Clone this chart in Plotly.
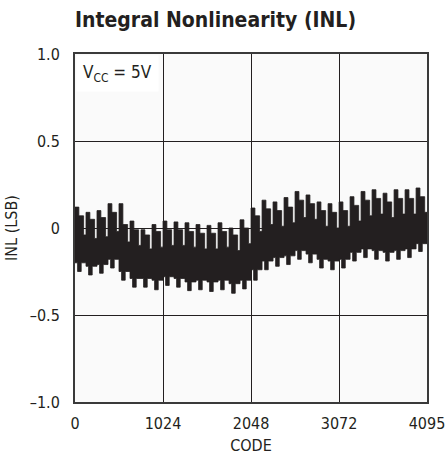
import plotly.graph_objects as go

# ---- data (per 128-code segment) ----
segment_size = 128
top_spike = [0.12, 0.09, 0.10, 0.14, 0.14, 0.04, -0.01, 0.02, 0.04, 0.035, 0.03, 0.02, 0.015, 0.03, 0.00, 0.047,
             0.115, 0.16, 0.15, 0.175, 0.21, 0.19, 0.15, 0.14, 0.15, 0.18, 0.21, 0.22, 0.20, 0.22, 0.22, 0.23]
top_step = [0.07, 0.05, 0.06, 0.09, 0.02, -0.01, -0.04, -0.02, -0.01, -0.01, -0.02, -0.03, -0.03, -0.02, -0.04, 0.00,
            0.07, 0.11, 0.10, 0.12, 0.16, 0.14, 0.10, 0.09, 0.10, 0.13, 0.16, 0.17, 0.15, 0.17, 0.17, 0.18]
top_gap = [-0.04, -0.06, -0.05, -0.02, -0.08, -0.10, -0.12, -0.11, -0.10, -0.10, -0.11, -0.12, -0.12, -0.11, -0.13, -0.09,
           -0.02, 0.02, 0.01, 0.03, 0.06, 0.05, 0.01, 0.00, 0.01, 0.04, 0.07, 0.08, 0.06, 0.08, 0.08, 0.09]
bot_dip = [-0.25, -0.27, -0.26, -0.23, -0.30, -0.34, -0.34, -0.355, -0.33, -0.34, -0.36, -0.355, -0.365, -0.355, -0.375, -0.35,
           -0.30, -0.24, -0.22, -0.21, -0.18, -0.20, -0.23, -0.24, -0.23, -0.19, -0.17, -0.18, -0.19, -0.18, -0.17, -0.135]
bot_step = [-0.20, -0.22, -0.21, -0.18, -0.25, -0.29, -0.29, -0.30, -0.28, -0.29, -0.31, -0.30, -0.31, -0.30, -0.32, -0.30,
            -0.24, -0.19, -0.17, -0.16, -0.13, -0.15, -0.18, -0.19, -0.18, -0.14, -0.12, -0.13, -0.14, -0.13, -0.12, -0.09]

x_tick_vals = [0, 1024, 2048, 3072, 4095]
x_tick_text = ["0", "1024", "2048", "3072", "4095"]
y_tick_vals = [-1.0, -0.5, 0.0, 0.5, 1.0]
y_tick_text = ["\u20131.0", "\u20130.5", "0", "0.5", "1.0"]

max_code = 4095

def add_steps(xs, ys, segs):
    for a, b, v in segs:
        a = min(a, max_code)
        b = min(b, max_code)
        if b <= a:
            continue
        xs.extend([a, b])
        ys.extend([v, v])

ux, uy, lx, ly = [], [], [], []
for k in range(len(top_spike)):
    s = k * segment_size
    add_steps(ux, uy, [(s, s + 45, top_spike[k]), (s + 45, s + 100, top_step[k]),
                       (s + 100, s + segment_size, top_gap[k])])
    add_steps(lx, ly, [(s, s + 30, bot_step[k]), (s + 30, s + 72, bot_dip[k]),
                       (s + 72, s + segment_size, bot_step[k])])

px = ux + lx[::-1] + [ux[0]]
py = uy + ly[::-1] + [uy[0]]

narrow = "Liberation Sans Narrow, DejaVu Sans Condensed, Arial Narrow, sans-serif"

fig = go.Figure()
fig.add_trace(go.Scatter(x=px, y=py, mode="lines", fill="toself",
                         fillcolor="#231f20", line=dict(color="#231f20", width=0.8),
                         hoverinfo="skip", showlegend=False))

fig.update_layout(
    width=448, height=460,
    margin=dict(l=75, r=21, t=54, b=58),
    paper_bgcolor="white", plot_bgcolor="#fafafa",
    font=dict(family=narrow, size=16, color="#231f20"),
    title=dict(text="<b>Integral Nonlinearity (INL)</b>", x=75/448, xanchor="left",
               y=1 - 20/460, yanchor="middle", font=dict(family=narrow, size=21, color="#231f20")),
    xaxis=dict(range=[0, max_code], tickvals=x_tick_vals, ticktext=x_tick_text,
               showgrid=True, gridcolor="#231f20", gridwidth=1, zeroline=False,
               showline=True, linecolor="#3a3a3a", linewidth=2, mirror=True,
               ticks="", ticklabelstandoff=6, automargin=False,
               title=dict(text="CODE", standoff=8, font=dict(size=16))),
    yaxis=dict(range=[-1, 1], tickvals=y_tick_vals, ticktext=y_tick_text,
               showgrid=True, gridcolor="#231f20", gridwidth=1, zeroline=False,
               showline=True, linecolor="#3a3a3a", linewidth=2, mirror=True,
               ticks="", ticklabelstandoff=10, automargin=False,
               title=dict(text="INL (LSB)", standoff=8, font=dict(size=16))),
    annotations=[dict(text="V<sub>CC</sub> = 5V", xref="paper", yref="paper",
                      x=0.003, y=0.997, xanchor="left", yanchor="top", showarrow=False,
                      bgcolor="white", borderpad=6, font=dict(family=narrow, size=17, color="#231f20"))],
)

# remove the default page margin so the 448x460 figure fills the window exactly
fig.write_html("out.html", config={"displayModeBar": False},
               post_script="document.body.style.margin='0px';document.body.style.overflow='hidden';")
